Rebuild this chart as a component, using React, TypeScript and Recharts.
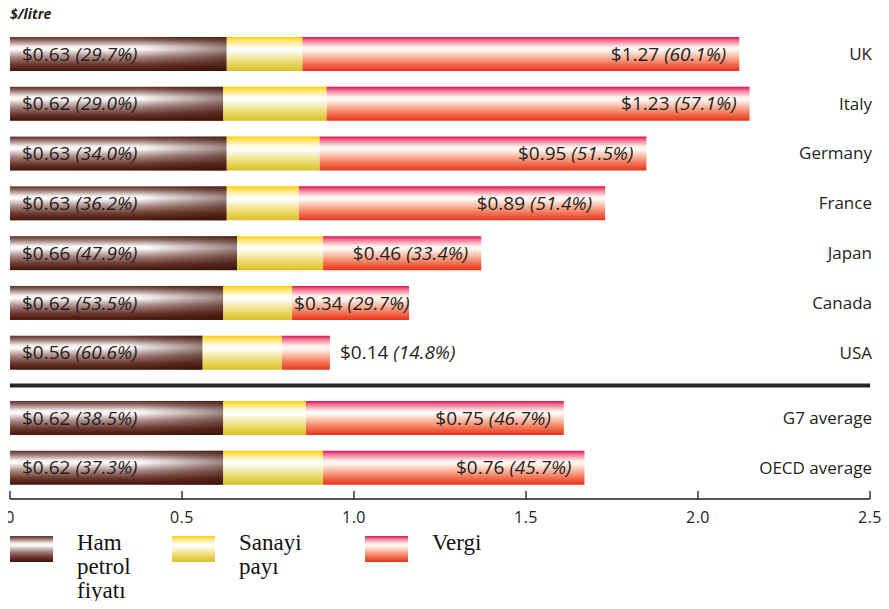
import React from 'react';
import { BarChart, Bar, XAxis, YAxis, ReferenceLine, LabelList, Legend } from 'recharts';

// Retail petrol price breakdown, US$ per litre
const countries = ['UK', 'Italy', 'Germany', 'France', 'Japan', 'Canada', 'USA', 'G7 average', 'OECD average'];
// Slot of each row on the category axis; the two averages sit below a divider
const rowSlots = [0, 1, 2, 3, 4, 5, 6, 7.31, 8.31];
const dividerSlot = 6.66;

const crudeOil = [0.63, 0.62, 0.63, 0.63, 0.66, 0.62, 0.56, 0.62, 0.62];
const crudeShare = ['29.7%', '29.0%', '34.0%', '36.2%', '47.9%', '53.5%', '60.6%', '38.5%', '37.3%'];
const industryMargin = [0.22, 0.3, 0.27, 0.21, 0.25, 0.2, 0.23, 0.24, 0.29];
const taxes = [1.27, 1.23, 0.95, 0.89, 0.46, 0.34, 0.14, 0.75, 0.76];
const taxShare = ['60.1%', '57.1%', '51.5%', '51.4%', '33.4%', '29.7%', '14.8%', '46.7%', '45.7%'];

const priceTicks = [0, 0.5, 1, 1.5, 2, 2.5];
const seriesNames = ['Ham petrol fiyatı', 'Sanayi payı', 'Vergi'];

const rows = countries.map((name, i) => ({
  name,
  slot: rowSlots[i],
  crude: crudeOil[i],
  margin: industryMargin[i],
  tax: taxes[i],
}));

// Shaded "tube" look for each segment: vertical gradient stops
type Stop = [number, string];
const crudeStops: Stop[] = [
  [0, '#5e2e26'], [0.1, '#8f6b65'], [0.28, '#f4eeed'], [0.36, '#ffffff'],
  [0.58, '#ad8c87'], [0.8, '#6c3a30'], [1, '#431308'],
];
const marginStops: Stop[] = [
  [0, '#ffcc00'], [0.1, '#ffe36a'], [0.3, '#fffcf0'], [0.38, '#ffffff'],
  [0.62, '#f1e69c'], [0.86, '#e4cf48'], [1, '#d9bf2a'],
];
const taxStops: Stop[] = [
  [0, '#e0104f'], [0.1, '#f0708e'], [0.3, '#fff3ef'], [0.38, '#fff8f4'],
  [0.55, '#fbc3ad'], [0.78, '#f37556'], [1, '#e8341a'],
];
const fillIds = ['crudeFill', 'marginFill', 'taxFill'];
const allStops = [crudeStops, marginStops, taxStops];

const cssGradient = (stops: Stop[]) =>
  `linear-gradient(to bottom, ${stops.map(([o, c]) => `${c} ${o * 100}%`).join(', ')})`;

const FONT = "'Open Sans', 'Noto Sans', sans-serif";
const INK = '#231f20';
const LABEL_SIZE = 19;
const LABEL_W = 120;

const getBox = (props: any) =>
  props.viewBox && props.viewBox.width != null ? props.viewBox : props;

const ValueText = ({ x, y, anchor, amount, share }: any) => (
  <text
    x={x}
    y={y}
    dy="0.35em"
    textAnchor={anchor}
    fontFamily={FONT}
    fontSize={LABEL_SIZE}
    fill={INK}
    style={{ whiteSpace: 'pre' }}
  >
    <tspan>{`$${amount.toFixed(2)} `}</tspan>
    <tspan fontStyle="italic">{`(${share})`}</tspan>
  </text>
);

const CrudeLabel = (props: any) => {
  const { x, y, height } = getBox(props);
  const i = props.index;
  return <ValueText x={x + 12} y={y + height / 2} anchor="start" amount={crudeOil[i]} share={crudeShare[i]} />;
};

const TaxLabel = (props: any) => {
  const { x, y, width, height } = getBox(props);
  const i = props.index;
  const end = x + width;
  let tx = end - 13;
  let anchor = 'end';
  if (width < 70) {
    tx = end + 10;
    anchor = 'start';
  } else if (width < LABEL_W + 15) {
    tx = x + 2;
    anchor = 'start';
  }
  return <ValueText x={tx} y={y + height / 2} anchor={anchor} amount={taxes[i]} share={taxShare[i]} />;
};

// Crude segment gets an extra darkening toward its right end
const CrudeShape = (props: any) => {
  const { x, y, width, height } = props;
  return (
    <g>
      <rect x={x} y={y} width={width} height={height} fill="url(#crudeFill)" />
      <rect x={x} y={y} width={width} height={height} fill="url(#crudeShade)" />
    </g>
  );
};

const CountryTick = (props: any) => {
  const { x, y, payload } = props;
  const i = rowSlots.indexOf(payload.value);
  return (
    <text x={x + 2} y={y} dy="0.35em" textAnchor="end" fontFamily={FONT} fontSize={17} fill={INK}>
      {countries[i]}
    </text>
  );
};

const legendItemWidths = [162, 193, 150];

const LegendBlock = () => (
  <div style={{ display: 'flex', alignItems: 'flex-start' }}>
    {seriesNames.map((name, i) => (
      <div key={name} style={{ display: 'flex', alignItems: 'flex-start', width: legendItemWidths[i] }}>
        <div
          style={{
            width: 43,
            height: 26,
            marginTop: 5,
            background: cssGradient(allStops[i]),
            flex: 'none',
          }}
        />
        <div
          style={{
            marginLeft: 24,
            fontFamily: "'Liberation Serif', 'Times New Roman', serif",
            fontSize: 23,
            lineHeight: '24px',
            color: '#111',
          }}
        >
          {name.split(' ').map((w) => (
            <div key={w}>{w}</div>
          ))}
        </div>
      </div>
    ))}
  </div>
);

export default function App() {
  return (
    <div style={{ width: 889, height: 609, margin: -8 }}>
      <BarChart
        width={889}
        height={609}
        data={rows}
        layout="vertical"
        margin={{ top: 29, right: 18, bottom: 80, left: 10 }}
        barSize={34}
      >
        <defs>
          {allStops.map((stops, k) => (
            <linearGradient key={fillIds[k]} id={fillIds[k]} x1="0" y1="0" x2="0" y2="1">
              {stops.map(([o, c]) => (
                <stop key={o} offset={o} stopColor={c} />
              ))}
            </linearGradient>
          ))}
          <linearGradient id="crudeShade" x1="0" y1="0" x2="1" y2="0">
            <stop offset={0} stopColor="#3a0e04" stopOpacity={0} />
            <stop offset={0.6} stopColor="#3a0e04" stopOpacity={0} />
            <stop offset={1} stopColor="#3a0e04" stopOpacity={0.5} />
          </linearGradient>
        </defs>

        <text x={10} y={19} fontFamily={FONT} fontSize={14} fontWeight="bold" fontStyle="italic" fill={INK}>
          $/litre
        </text>

        <XAxis
          type="number"
          domain={[0, 2.5]}
          ticks={priceTicks}
          interval={0}
          tickFormatter={(v: number) => (v === 0 ? '0' : v.toFixed(1))}
          axisLine={{ stroke: '#555', strokeWidth: 2 }}
          tickLine={{ stroke: '#333', strokeWidth: 1.5 }}
          tickSize={-8}
          tickMargin={21}
          tick={{ fontFamily: FONT, fontSize: 16, fill: INK, letterSpacing: 0.5 }}
        />
        <YAxis
          type="number"
          dataKey="slot"
          orientation="right"
          domain={[-0.5, 8.94]}
          ticks={rowSlots}
          interval={0}
          width={1}
          axisLine={false}
          tickLine={false}
          tickSize={0}
          tickMargin={0}
          tick={<CountryTick />}
        />

        <ReferenceLine y={dividerSlot} stroke="#262626" strokeWidth={4} />

        <Bar dataKey="crude" name={seriesNames[0]} stackId="price" shape={<CrudeShape />} isAnimationActive={false}>
          <LabelList dataKey="crude" content={<CrudeLabel />} />
        </Bar>
        <Bar dataKey="margin" name={seriesNames[1]} stackId="price" fill="url(#marginFill)" isAnimationActive={false} />
        <Bar dataKey="tax" name={seriesNames[2]} stackId="price" fill="url(#taxFill)" isAnimationActive={false}>
          <LabelList dataKey="tax" content={<TaxLabel />} />
        </Bar>

        <Legend
          layout="horizontal"
          verticalAlign="middle"
          align="center"
          wrapperStyle={{ top: 531, left: 10, width: 600, height: 75 }}
          content={() => <LegendBlock />}
        />
      </BarChart>
    </div>
  );
}
